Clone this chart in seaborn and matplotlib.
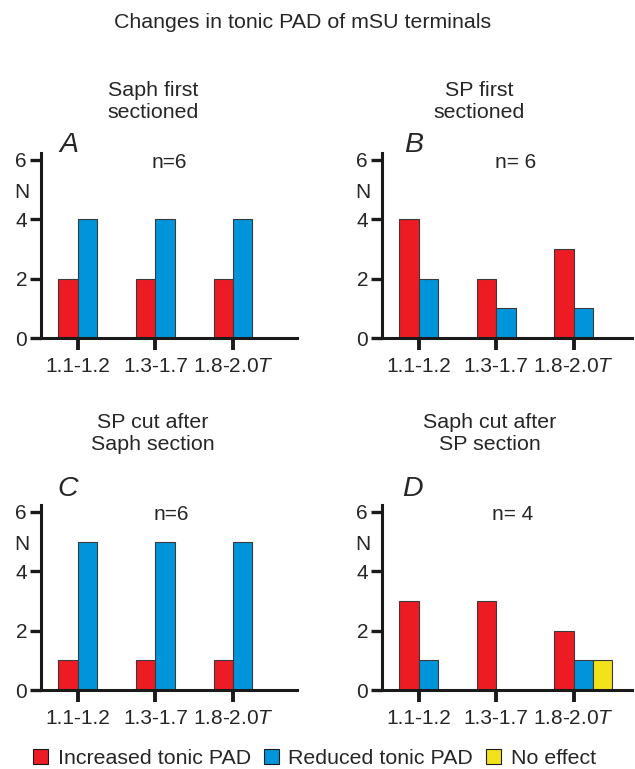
import numpy as np
import pandas as pd
import matplotlib
matplotlib.use("Agg")
import matplotlib.pyplot as plt
from matplotlib.patches import Patch
import matplotlib.transforms as mtransforms
import seaborn as sns

# ---------------- data ----------------
ranges = ["1.1-1.2", "1.3-1.7", "1.8-2.0T"]
tick_labels = ["1.1-1.2", "1.3-1.7", "1.8-2.0$\\it{T}$"]
effects = ["Increased tonic PAD", "Reduced tonic PAD", "No effect"]
colors = ["#ED1C24", "#0095DA", "#F2E21C"]

panel_letters = ["A", "B", "C", "D"]
panel_titles = ["Saph first\nsectioned", "SP first\nsectioned",
                "SP cut after\nSaph section", "Saph cut after\nSP section"]
panel_n = ["n=6", "n= 6", "n=6", "n= 4"]

increased_A = [2, 2, 2]
reduced_A = [4, 4, 4]
noeffect_A = [0, 0, 0]

increased_B = [4, 2, 3]
reduced_B = [2, 1, 1]
noeffect_B = [0, 0, 0]

increased_C = [1, 1, 1]
reduced_C = [5, 5, 5]
noeffect_C = [0, 0, 0]

increased_D = [3, 3, 2]
reduced_D = [1, 0, 1]
noeffect_D = [0, 0, 1]

yticks = [0, 2, 4, 6]

panels = [
    (increased_A, reduced_A, noeffect_A),
    (increased_B, reduced_B, noeffect_B),
    (increased_C, reduced_C, noeffect_C),
    (increased_D, reduced_D, noeffect_D),
]

# ---------------- style ----------------
sns.set_style("white")
plt.rcParams["font.family"] = ["Liberation Sans", "DejaVu Sans"]
plt.rcParams["mathtext.fontset"] = "custom"
plt.rcParams["mathtext.it"] = "Liberation Sans:italic"
plt.rcParams["mathtext.rm"] = "Liberation Sans"

W, H = 635, 769
fig = plt.figure(figsize=(W / 100, H / 100), dpi=100)

def frac_rect(left_px, right_px, top_px, bottom_px):
    return [left_px / W, 1 - bottom_px / H, (right_px - left_px) / W, (bottom_px - top_px) / H]

ymax = 6.25
rects = [
    frac_rect(41, 297, 338 - ymax * 29.67, 338),
    frac_rect(382, 632, 338 - ymax * 29.67, 338),
    frac_rect(41, 297, 690 - ymax * 29.67, 690),
    frac_rect(382, 632, 690 - ymax * 29.67, 690),
]
xlims = [(-0.60, 2.70), (-0.60, 2.63), (-0.60, 2.70), (-0.60, 2.63)]
n_x = [1.05, 1.12, 1.08, 1.09]
letter_px = [(69, 145), (414, 145), (68, 489), (412, 489)]

fs = 15
for k, (vals, rect) in enumerate(zip(panels, rects)):
    ax = fig.add_axes(rect)
    rows = []
    for eff, series in zip(effects, vals):
        for r, v in zip(ranges, series):
            if v > 0:
                rows.append({"range": r, "N": v, "effect": eff})
    df = pd.DataFrame(rows)
    sns.barplot(data=df, x="range", y="N", hue="effect", order=ranges,
                hue_order=effects, palette=colors, width=0.75, dodge=True,
                edgecolor="#3a3a3a", linewidth=0.8, errorbar=None,
                legend=False, ax=ax, saturation=1)
    ax.set_xlim(*xlims[k])
    ax.set_ylim(0, ymax)
    ax.set_xlabel("")
    ax.set_ylabel("")
    ax.set_xticks([i - 0.125 for i in range(len(ranges))])
    ax.set_xticklabels(tick_labels)
    ax.set_yticks(yticks)
    ax.set_yticklabels([str(t) for t in yticks])
    for s in ["top", "right"]:
        ax.spines[s].set_visible(False)
    for s in ["left", "bottom"]:
        ax.spines[s].set_linewidth(2.2)
        ax.spines[s].set_color("#1a1a1a")
    ax.tick_params(axis="y", direction="out", length=8, width=2.4,
                   labelsize=fs, pad=2, color="#1a1a1a", left=True)
    ax.tick_params(axis="x", direction="out", length=8.5, width=2.8,
                   labelsize=fs, pad=5, color="#1a1a1a", bottom=True)
    # N label
    trans = mtransforms.blended_transform_factory(ax.transAxes, ax.transData)
    ax.text(-19 / (rect[2] * W), 4.9, "N", transform=trans, ha="center",
            va="center", fontsize=fs)
    # n label
    ax.text(n_x[k], 5.9, panel_n[k], ha="center", va="center", fontsize=fs)
    # panel letter
    lx, ly = letter_px[k]
    fig.text(lx / W, 1 - ly / H, panel_letters[k], fontsize=20.5,
             style="italic", ha="center", va="center")

# panel titles
title_pos = [(153, 101), (479, 101), (153, 433), (490, 433)]
for (x, y), t in zip(title_pos, panel_titles):
    fig.text(x / W, 1 - y / H, t, ha="center", va="center", fontsize=15.4,
             linespacing=1.2)

fig.text(303 / W, 1 - 22 / H, "Changes in tonic PAD of mSU terminals",
         ha="center", va="center", fontsize=15.4)

handles = [Patch(facecolor=c, edgecolor="#1a1a1a", linewidth=0.8) for c in colors]
fig.legend(handles, effects, loc="center", bbox_to_anchor=(314.5 / W, 1 - 758 / H),
           ncol=3, frameon=False, fontsize=15.4, handlelength=0.7,
           handleheight=0.7, handletextpad=0.45, columnspacing=0.6,
           borderpad=0, borderaxespad=0)

fig.savefig("out.png", dpi=100)
